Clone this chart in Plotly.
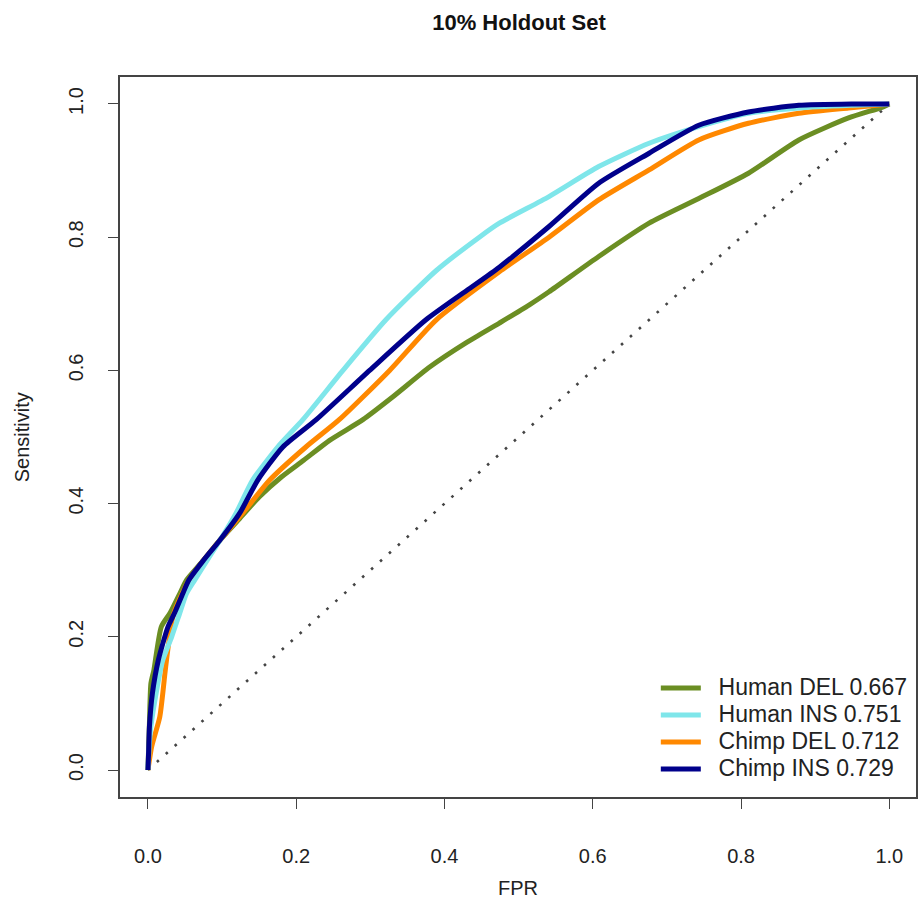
import plotly.graph_objects as go

# ---- data ----
title_text = "10% Holdout Set"
x_label = "FPR"
y_label = "Sensitivity"
tick_vals = [0.0, 0.2, 0.4, 0.6, 0.8, 1.0]
tick_text = ["0.0", "0.2", "0.4", "0.6", "0.8", "1.0"]

series_names = ["Human DEL 0.667", "Human INS 0.751", "Chimp DEL 0.712", "Chimp INS 0.729"]

human_del_fpr = [0, 0.002, 0.004, 0.008, 0.018, 0.03, 0.043, 0.052, 0.075, 0.097, 0.124, 0.15,
                 0.18, 0.21, 0.245, 0.29, 0.33, 0.38, 0.43, 0.474, 0.514, 0.541, 0.608, 0.676,
                 0.743, 0.81, 0.878, 0.945, 0.99, 1.0]
human_del_tpr = [0, 0.07, 0.13, 0.15, 0.215, 0.236, 0.265, 0.285, 0.315, 0.345, 0.378, 0.41,
                 0.44, 0.465, 0.495, 0.526, 0.56, 0.605, 0.642, 0.671, 0.698, 0.718, 0.771, 0.821,
                 0.858, 0.896, 0.946, 0.979, 0.995, 1.0]

human_ins_fpr = [0, 0.002, 0.004, 0.011, 0.02, 0.032, 0.043, 0.052, 0.063, 0.08, 0.1, 0.119,
                 0.141, 0.175, 0.209, 0.263, 0.321, 0.389, 0.447, 0.474, 0.541, 0.608, 0.676,
                 0.743, 0.81, 0.878, 0.95, 1.0]
human_ins_tpr = [0, 0.04, 0.065, 0.115, 0.165, 0.2, 0.236, 0.265, 0.285, 0.315, 0.35, 0.386,
                 0.435, 0.485, 0.526, 0.60, 0.676, 0.75, 0.80, 0.821, 0.861, 0.906, 0.941,
                 0.966, 0.986, 0.994, 0.998, 1.0]

chimp_del_fpr = [0, 0.005, 0.016, 0.023, 0.025, 0.031, 0.035, 0.055, 0.075, 0.097, 0.128, 0.164,
                 0.213, 0.258, 0.326, 0.389, 0.474, 0.541, 0.608, 0.676, 0.743, 0.81, 0.878,
                 0.945, 1.0]
chimp_del_tpr = [0, 0.035, 0.08, 0.146, 0.165, 0.215, 0.236, 0.285, 0.315, 0.345, 0.386, 0.435,
                 0.485, 0.526, 0.60, 0.676, 0.748, 0.80, 0.856, 0.901, 0.946, 0.971, 0.986,
                 0.994, 1.0]

chimp_ins_fpr = [0, 0.001, 0.002, 0.006, 0.014, 0.027, 0.036, 0.047, 0.055, 0.075, 0.097, 0.124,
                 0.148, 0.182, 0.227, 0.299, 0.375, 0.43, 0.474, 0.541, 0.608, 0.676, 0.743,
                 0.81, 0.878, 0.95, 1.0]
chimp_ins_tpr = [0, 0.03, 0.065, 0.115, 0.165, 0.215, 0.236, 0.265, 0.285, 0.315, 0.345, 0.386,
                 0.435, 0.485, 0.526, 0.60, 0.676, 0.72, 0.755, 0.816, 0.881, 0.926, 0.968,
                 0.988, 0.998, 1.0, 1.0]

diag_x = [0, 1]
diag_y = [0, 1]

colors = ["#6B8E23", "#7FE6EA", "#FF8800", "#00008B"]

FONT = "Liberation Sans, Arial, Helvetica, sans-serif"
TXT = "#222222"
GAP = "\u00a0\u00a0"

fig = go.Figure()

fig.add_trace(go.Scatter(x=diag_x, y=diag_y, mode="lines", showlegend=False,
                         line=dict(color="#444444", width=2.6, dash="2.6px,9.4px"),
                         hoverinfo="skip"))

traces = [
    (human_del_fpr, human_del_tpr, series_names[0], colors[0], 1),
    (chimp_del_fpr, chimp_del_tpr, series_names[2], colors[2], 3),
    (human_ins_fpr, human_ins_tpr, series_names[1], colors[1], 2),
    (chimp_ins_fpr, chimp_ins_tpr, series_names[3], colors[3], 4),
]
for xs, ys, nm, col, rank in traces:
    fig.add_trace(go.Scatter(x=xs, y=ys, mode="lines",
                             name='<span style="font-size:23px">' + GAP + nm + "</span>",
                             legendrank=rank,
                             line=dict(color=col, width=5, shape="spline", smoothing=0.6)))

axis_common = dict(
    tickvals=tick_vals, ticktext=tick_text,
    showgrid=False, zeroline=False,
    showline=True, mirror=True, linecolor="#444444", linewidth=1.6,
    ticks="outside", ticklen=10, tickwidth=1.4, tickcolor="#444444",
    tickfont=dict(family=FONT, size=20, color=TXT),
)

fig.update_layout(
    width=919, height=908,
    margin=dict(l=120, r=1, t=77, b=111),
    paper_bgcolor="white", plot_bgcolor="white",
    title=dict(text="<b>" + title_text + "</b>", x=(120 + 918) / 2 / 919, xanchor="center",
               y=1 - 22 / 908, yanchor="middle",
               font=dict(family=FONT, size=22, color="#111111")),
    xaxis=dict(range=[-0.0377, 1.036], ticklabelstandoff=30, **axis_common),
    yaxis=dict(range=[-0.0405, 1.0405], tickangle=-90, ticklabelstandoff=17, **axis_common),
    legend=dict(x=0.996, xanchor="right", y=0.012, yanchor="bottom",
                bgcolor="rgba(0,0,0,0)", borderwidth=0,
                font=dict(family=FONT, size=18.5, color=TXT),
                itemwidth=40, tracegroupgap=0),
    showlegend=True,
    annotations=[
        dict(text=x_label, xref="paper", yref="paper", x=(519 - 120) / 798, y=(797 - 888) / 720,
             xanchor="center", yanchor="middle", showarrow=False,
             font=dict(family=FONT, size=20, color=TXT)),
        dict(text=y_label, xref="paper", yref="paper", x=(22 - 120) / 798, y=(797 - 437) / 720,
             xanchor="center", yanchor="middle", showarrow=False, textangle=-90,
             font=dict(family=FONT, size=20, color=TXT)),
    ],
)

fig.write_html("out.html", config={"displayModeBar": False},
               post_script="document.body.style.margin='0';document.body.style.overflow='hidden';")
